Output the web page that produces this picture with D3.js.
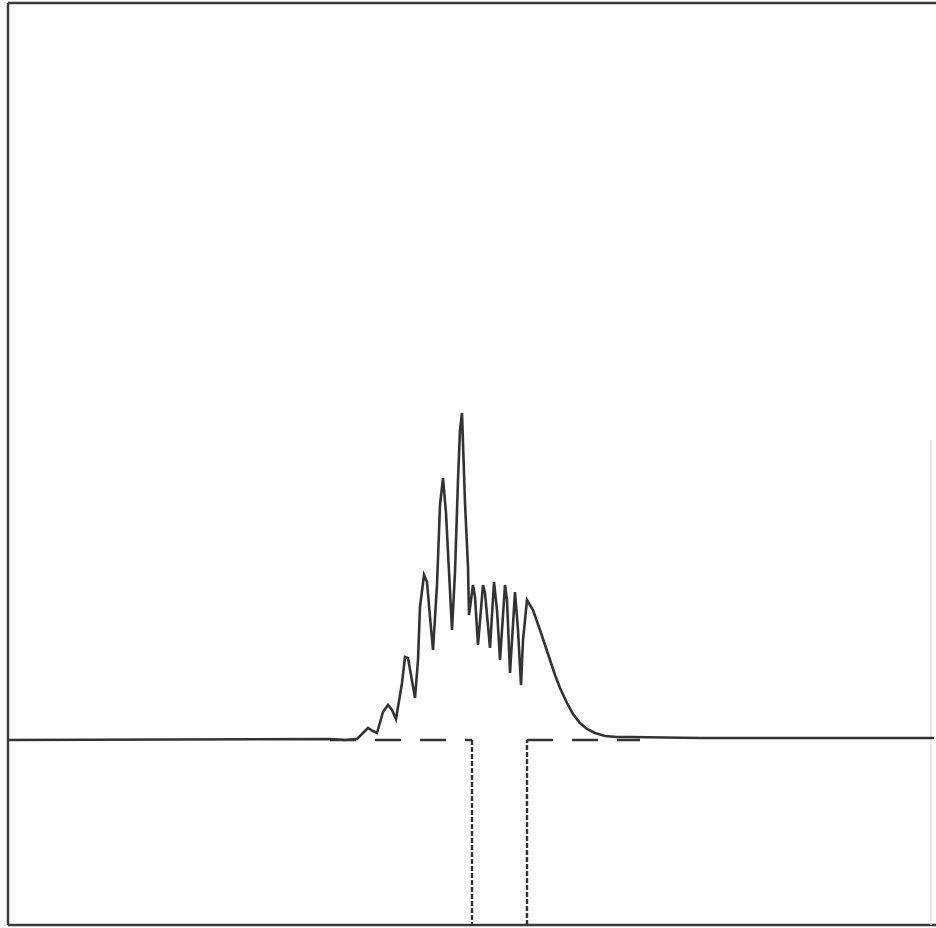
<!DOCTYPE html>
<html>
<head>
<meta charset="utf-8">
<script src="https://cdn.jsdelivr.net/npm/d3@7"></script>
<style>
  body { margin: 0; background: #fff; }
  svg { display: block; }
</style>
</head>
<body>
<div id="chart-area"></div>
<script>
// spectrum trace (channel vs intensity, baseline = 0)
const channel = [0, 322, 337, 349, 355, 360, 365, 369, 375, 380, 384, 388, 394, 397, 400, 403, 407, 410, 412, 416,
  419, 422, 425, 429, 432, 435, 438, 444, 447, 450, 452, 454, 457, 460, 461, 463, 465, 467, 470, 475,
  477, 482, 486, 489, 492, 497, 499, 502, 507, 510, 513, 515, 519, 525, 532, 537, 542, 547, 552, 559,
  565, 572, 579, 587, 597, 609, 622, 692, 926];
const intensity = [0, 1, 0, 1, 7, 12, 9, 7, 28, 35, 30, 21, 57, 83, 82, 65, 42, 80, 133, 165,
  158, 123, 90, 155, 235, 262, 227, 110, 168, 260, 310, 327, 237, 173, 125, 140, 155, 143, 95, 155,
  147, 92, 158, 130, 80, 155, 140, 67, 148, 110, 55, 100, 140, 130, 110, 95, 80, 65, 52, 37,
  26, 17, 11, 7, 4, 3, 3, 2, 2];

// filter window (dashed)
const filterChannel = [322, 464, 464, 519, 519, 632];
const filterLevel = [0, 0, -185, -185, 0, 0];

const chartSize = { width: 936, height: 928 };
const plot = { left: 8, right: 934, top: 3, bottom: 925 };

const x = d3.scaleLinear().domain([0, 926]).range([plot.left, plot.right]);
const y = d3.scaleLinear().domain([-185, 737]).range([plot.bottom, plot.top]);

const svg = d3.select("#chart-area")
  .append("svg")
  .attr("width", chartSize.width)
  .attr("height", chartSize.height);

// frame
const frame = svg.append("g")
  .attr("stroke", "#3a3a3a")
  .attr("stroke-width", 2.5)
  .attr("fill", "none");
frame.append("line").attr("x1", plot.left).attr("x2", chartSize.width).attr("y1", plot.top).attr("y2", plot.top);
frame.append("line").attr("x1", plot.left).attr("x2", plot.left).attr("y1", plot.top).attr("y2", plot.bottom);
frame.append("line").attr("x1", plot.left).attr("x2", chartSize.width).attr("y1", plot.bottom).attr("y2", plot.bottom);
svg.append("line")
  .attr("x1", 931).attr("x2", 931).attr("y1", 440).attr("y2", plot.bottom)
  .attr("stroke", "#e2e2e2").attr("stroke-width", 1.5);

// dashed filter window
const filterPts = filterChannel.map((c, i) => [c, filterLevel[i]]);
d3.pairs(filterPts).forEach(([a, b]) => {
  if (a[1] === b[1] && a[1] !== 0) return; // bottom edge sits on frame
  const vertical = a[0] === b[0];
  svg.append("line")
    .attr("x1", x(a[0])).attr("y1", y(a[1]))
    .attr("x2", x(b[0])).attr("y2", y(b[1]))
    .attr("stroke", "#333")
    .attr("stroke-width", vertical ? 2.4 : 2.6)
    .attr("stroke-dasharray", vertical ? "5,2" : "26,19");
});

// spectrum
const line = d3.line()
  .x(d => x(d[0]))
  .y(d => y(d[1]))
  .curve(d3.curveLinear);

svg.append("path")
  .datum(channel.map((c, i) => [c, intensity[i]]))
  .attr("d", line)
  .attr("fill", "none")
  .attr("stroke", "#333")
  .attr("stroke-width", 2.6)
  .attr("stroke-linejoin", "miter");
</script>
</body>
</html>
